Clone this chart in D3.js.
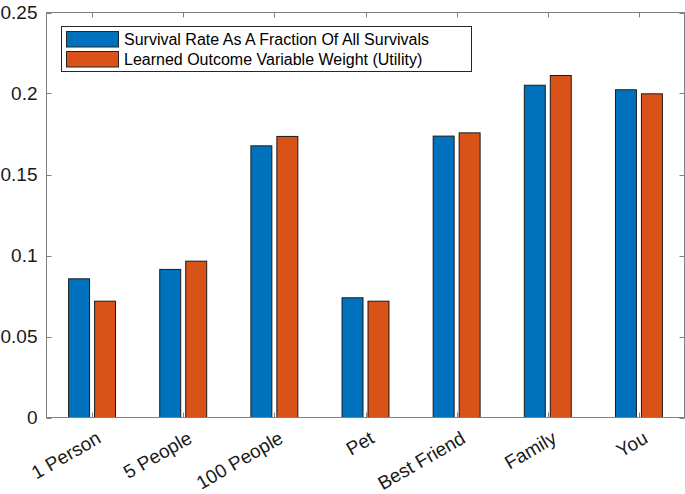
<!DOCTYPE html>
<html><head><meta charset="utf-8">
<script src="https://cdn.jsdelivr.net/npm/d3@7"></script>
<style>body{margin:0;background:#fff}svg{display:block}text{font-family:"Liberation Sans",Arial,sans-serif}</style>
</head><body><svg id="c" width="685" height="494"></svg>
<script>
const categories = ["1 Person","5 People","100 People","Pet","Best Friend","Family","You"];
const survivalRate = [0.0856,0.0914,0.1677,0.0739,0.1737,0.2051,0.2023];
const learnedWeight = [0.0718,0.0965,0.1735,0.0718,0.1757,0.2111,0.1998];
const seriesNames = ["Survival Rate As A Fraction Of All Survivals","Learned Outcome Variable Weight (Utility)"];
const yTicks = [0,0.05,0.1,0.15,0.2,0.25];
const yTickLabels = ["0","0.05","0.1","0.15","0.2","0.25"];
const colors = ["#0072BD","#D95319"];

const svg = d3.select("#c");
const L=46.5, R=684.5, T=12.5, B=417.5;
const x = d3.scaleLinear().domain([0.5,7.5]).range([L,R]);
const y = d3.scaleLinear().domain([0,0.25]).range([B,T]);
const axisColor="#808080";
const barW = (x(1)-x(0))*0.23, gap=(x(1)-x(0))*0.055;

const series=[survivalRate,learnedWeight];
series.forEach((s,si)=>{
  svg.append("g").selectAll("rect").data(s).join("rect")
    .attr("x",(d,i)=> si===0 ? x(i+1)-gap/2-barW : x(i+1)+gap/2)
    .attr("y",d=>y(d)).attr("width",barW).attr("height",d=>y(0)-y(d))
    .attr("fill",colors[si]).attr("stroke","#1a1a1a").attr("stroke-width",1);
});

// box
const g=svg.append("g").attr("stroke",axisColor).attr("fill","none");
g.append("rect").attr("x",L).attr("y",T).attr("width",R-L).attr("height",B-T).attr("stroke-width",1);
// ticks
const tl=5;
categories.forEach((c,i)=>{
  const xx=Math.round(x(i+1))+0.5;
  g.append("line").attr("x1",xx).attr("x2",xx).attr("y1",B).attr("y2",B-tl);
  g.append("line").attr("x1",xx).attr("x2",xx).attr("y1",T).attr("y2",T+tl);
});
yTicks.forEach(t=>{
  const yy=Math.round(y(t))+0.5;
  g.append("line").attr("x1",L).attr("x2",L+tl).attr("y1",yy).attr("y2",yy);
  g.append("line").attr("x1",R).attr("x2",R-tl).attr("y1",yy).attr("y2",yy);
});
// y labels
svg.append("g").selectAll("text").data(yTicks).join("text")
  .attr("x",L-9).attr("y",d=>y(d)).attr("dy","0.35em").attr("text-anchor","end")
  .attr("font-size",19).attr("fill","#1a1a1a").text((d,i)=>yTickLabels[i]);
// x labels
svg.append("g").selectAll("text").data(categories).join("text")
  .attr("transform",(d,i)=>`translate(${x(i+1)+3},${B+12}) rotate(-30)`)
  .attr("text-anchor","end").attr("dy","0.75em")
  .attr("font-size",19).attr("fill","#1a1a1a").text(d=>d);

// legend
const lg=svg.append("g");
lg.append("rect").attr("x",61.5).attr("y",26.5).attr("width",410).attr("height",45)
  .attr("fill","#fff").attr("stroke","#262626").attr("stroke-width",1);
seriesNames.forEach((n,i)=>{
  const yy=31+i*20;
  lg.append("rect").attr("x",66.5).attr("y",yy+0.5).attr("width",52).attr("height",15.5)
    .attr("fill",colors[i]).attr("stroke","#262626");
  lg.append("text").attr("x",124).attr("y",yy+8).attr("dy","0.36em")
    .attr("font-size",16).attr("fill","#000").text(n);
});
</script></body></html>
